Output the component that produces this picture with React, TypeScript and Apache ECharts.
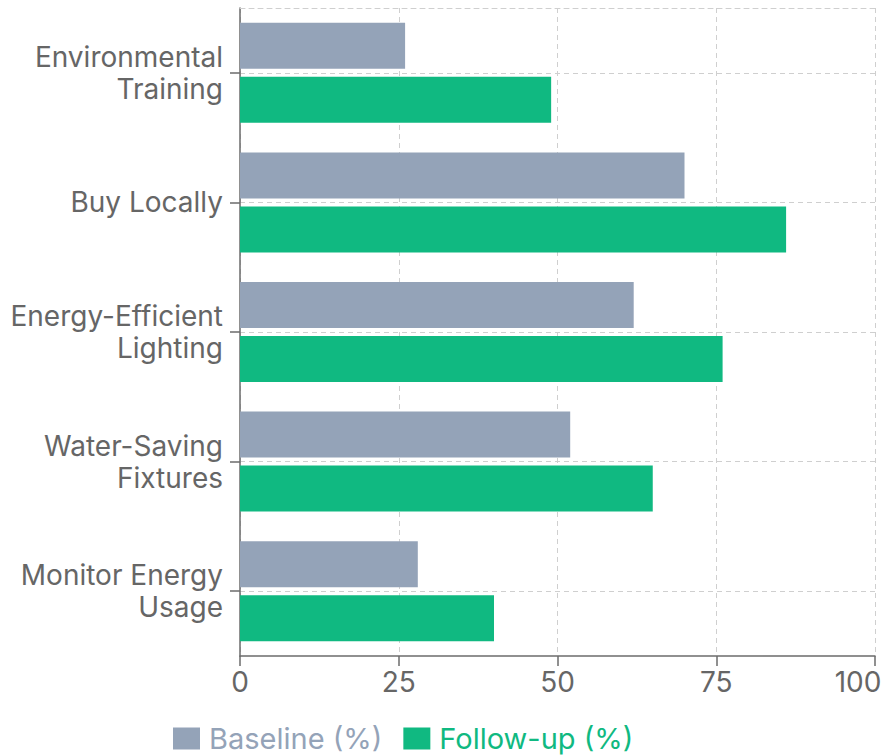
import React, { useEffect, useRef } from "react";
import * as echarts from "echarts";

const categories = [
  "Environmental\nTraining",
  "Buy Locally",
  "Energy-Efficient\nLighting",
  "Water-Saving\nFixtures",
  "Monitor Energy\nUsage",
];
const baselineValues = [26, 70, 62, 52, 28];
const followUpValues = [49, 86, 76, 65, 40];
const seriesNames = ["Baseline (%)", "Follow-up (%)"];
const xTicks = { min: 0, max: 100, interval: 25 };

const BASE = "#94a3b8";
const FOLLOW = "#10b981";
const FONT = "Inter, 'Noto Sans', sans-serif";
const AXIS_COLOR = "#6b6b6b";
const LABEL_COLOR = "#666";
const GRID_LINE = { color: "#cfcfcf", width: 1, type: [5, 4] as number[] };

export default function App() {
  const ref = useRef<HTMLDivElement>(null);
  useEffect(() => {
    document.body.style.margin = "0";
    const chart = echarts.init(ref.current!, null, { renderer: "svg" });
    chart.setOption({
      animation: false,
      textStyle: { fontFamily: FONT },
      grid: {
        left: 240,
        right: 11,
        top: 8,
        bottom: 99,
        containLabel: false,
        outerBoundsMode: "none",
      },
      legend: {
        top: 724,
        left: 173,
        padding: 0,
        icon: "rect",
        itemWidth: 27,
        itemHeight: 22,
        itemGap: 21,
        textStyle: { fontSize: 29, fontFamily: FONT, padding: [0, 0, 0, 4] },
        data: [
          { name: seriesNames[0], textStyle: { color: BASE } },
          { name: seriesNames[1], textStyle: { color: FOLLOW } },
        ],
      },
      xAxis: [
        {
          type: "value",
          min: xTicks.min,
          max: xTicks.max,
          interval: xTicks.interval,
          axisLine: { show: true, lineStyle: { color: AXIS_COLOR, width: 1.5 } },
          axisTick: { show: true, length: 10, lineStyle: { color: AXIS_COLOR, width: 1.5 } },
          axisLabel: {
            color: LABEL_COLOR,
            fontSize: 28,
            margin: 12,
            fontFamily: FONT,
            formatter: (v: number) => (v === xTicks.max ? "{r|" + v + "}" : String(v)),
            rich: {
              r: { color: LABEL_COLOR, fontSize: 28, fontFamily: FONT, padding: [0, 34, 0, 0] },
            },
          },
          splitLine: { show: true, lineStyle: GRID_LINE },
        },
        {
          type: "value",
          position: "top",
          min: xTicks.min,
          max: xTicks.max,
          axisLine: { show: true, lineStyle: GRID_LINE },
          axisTick: { show: false },
          axisLabel: { show: false },
          splitLine: { show: false },
        },
      ],
      yAxis: {
        type: "category",
        inverse: true,
        data: categories,
        axisLine: { show: true, lineStyle: { color: AXIS_COLOR, width: 1.5 } },
        axisTick: {
          show: true,
          alignWithLabel: true,
          length: 10,
          lineStyle: { color: AXIS_COLOR, width: 1.5 },
        },
        axisLabel: { color: LABEL_COLOR, fontSize: 28, lineHeight: 32, margin: 17, fontFamily: FONT },
        splitLine: { show: true, alignWithLabel: true, lineStyle: GRID_LINE },
      },
      series: [
        {
          name: seriesNames[0],
          type: "bar",
          data: baselineValues,
          barWidth: 46,
          barGap: "17.4%",
          itemStyle: { color: BASE },
        },
        {
          name: seriesNames[1],
          type: "bar",
          data: followUpValues,
          barWidth: 46,
          barGap: "17.4%",
          itemStyle: { color: FOLLOW },
        },
      ],
    });
    return () => chart.dispose();
  }, []);
  return <div ref={ref} style={{ width: 886, height: 755 }} />;
}
